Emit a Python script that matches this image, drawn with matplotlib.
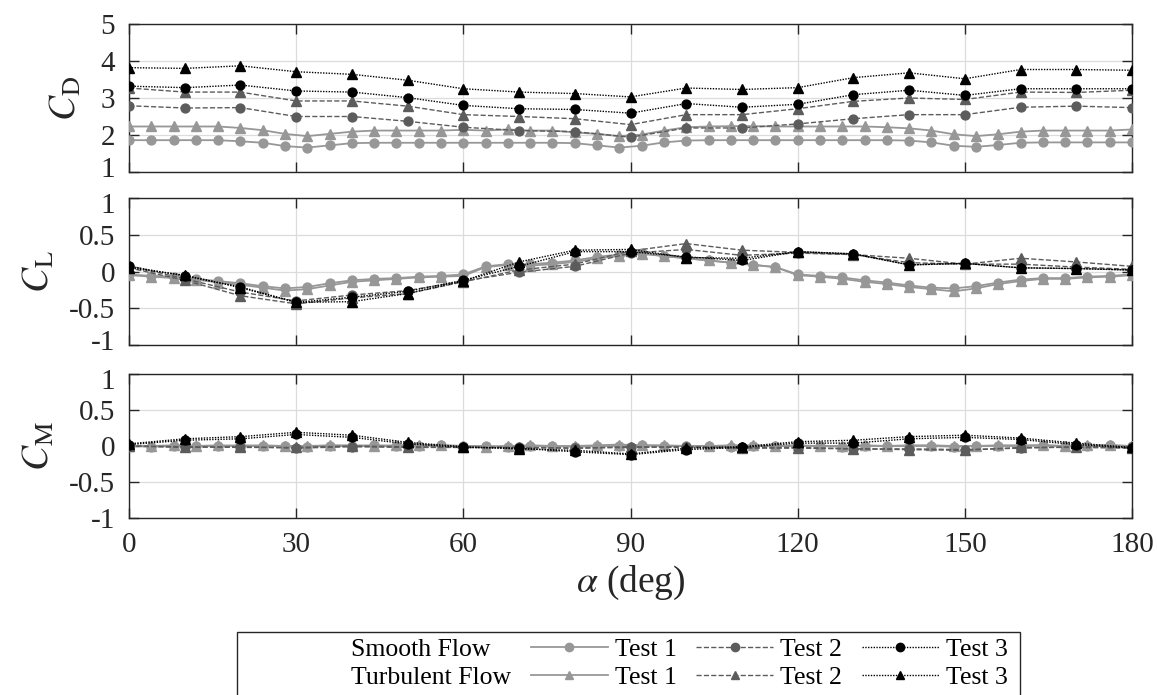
import numpy as np
import matplotlib
matplotlib.use('Agg')
import matplotlib.pyplot as plt
import matplotlib.transforms as mtransforms
from matplotlib.lines import Line2D
from matplotlib.patches import Rectangle

plt.rcParams['font.family'] = ['Liberation Serif', 'DejaVu Serif']
plt.rcParams['mathtext.fontset'] = 'stix'
plt.rcParams['axes.unicode_minus'] = False

# angles: test 1 every 4 deg, tests 2 and 3 every 10 deg
alpha_t1 = np.arange(0, 181, 4)
alpha_t23 = np.arange(0, 181, 10)

# ---- drag coefficient ----
cd_smooth_1 = [1.86, 1.86, 1.86, 1.86, 1.86, 1.83, 1.79, 1.70, 1.66, 1.72, 1.78, 1.79,
               1.79, 1.79, 1.79, 1.79, 1.79, 1.79, 1.79, 1.79, 1.78, 1.72, 1.66, 1.71,
               1.80, 1.85, 1.86, 1.86, 1.86, 1.86, 1.86, 1.86, 1.86, 1.86, 1.86, 1.85,
               1.80, 1.71, 1.68, 1.73, 1.79, 1.80, 1.80, 1.80, 1.80, 1.80]
cd_turb_1 = [2.23, 2.23, 2.23, 2.23, 2.23, 2.19, 2.13, 2.03, 1.97, 2.03, 2.09, 2.12,
             2.12, 2.12, 2.12, 2.14, 2.12, 2.15, 2.12, 2.12, 2.07, 2.03, 1.97, 2.01,
             2.12, 2.21, 2.23, 2.24, 2.24, 2.23, 2.23, 2.23, 2.23, 2.23, 2.21, 2.18,
             2.12, 2.02, 1.97, 2.02, 2.09, 2.12, 2.12, 2.12, 2.12, 2.15]
cd_smooth_2 = [2.79, 2.73, 2.74, 2.50, 2.50, 2.37, 2.21, 2.12, 2.09, 1.94,
               2.19, 2.19, 2.30, 2.44, 2.55, 2.55, 2.75, 2.78, 2.74]
cd_turb_2 = [3.27, 3.16, 3.16, 2.92, 2.92, 2.78, 2.55, 2.50, 2.44, 2.28,
             2.55, 2.55, 2.71, 2.91, 3.00, 2.96, 3.16, 3.15, 3.21]
cd_smooth_3 = [3.32, 3.28, 3.35, 3.19, 3.16, 3.01, 2.80, 2.71, 2.69, 2.59,
               2.85, 2.75, 2.83, 3.09, 3.21, 3.07, 3.25, 3.25, 3.25]
cd_turb_3 = [3.82, 3.80, 3.87, 3.71, 3.64, 3.48, 3.25, 3.16, 3.12, 3.03,
             3.27, 3.23, 3.28, 3.55, 3.68, 3.52, 3.77, 3.77, 3.75]

# ---- lift coefficient ----
cl_smooth_1 = [-0.04, -0.06, -0.07, -0.10, -0.13, -0.16, -0.20, -0.23, -0.21, -0.16, -0.12, -0.10,
               -0.09, -0.07, -0.06, -0.04, 0.07, 0.10, 0.10, 0.12, 0.15, 0.20, 0.23, 0.25,
               0.21, 0.18, 0.15, 0.12, 0.09, 0.06, -0.04, -0.06, -0.08, -0.12, -0.15, -0.19,
               -0.22, -0.23, -0.20, -0.15, -0.11, -0.09, -0.09, -0.07, -0.06, -0.04]
cl_turb_1 = [-0.05, -0.07, -0.09, -0.11, -0.15, -0.18, -0.22, -0.26, -0.24, -0.19, -0.14, -0.12,
             -0.10, -0.08, -0.07, -0.06, 0.06, 0.09, 0.08, 0.10, 0.13, 0.18, 0.21, 0.24,
             0.21, 0.18, 0.15, 0.12, 0.09, 0.06, -0.05, -0.07, -0.10, -0.14, -0.17, -0.21,
             -0.24, -0.27, -0.23, -0.17, -0.13, -0.10, -0.10, -0.08, -0.07, -0.05]
cl_smooth_2 = [0.08, -0.10, -0.28, -0.40, -0.32, -0.26, -0.13, -0.01, 0.07, 0.25,
               0.30, 0.22, 0.25, 0.23, 0.12, 0.10, 0.10, 0.06, 0.03]
cl_turb_2 = [0.05, -0.12, -0.33, -0.44, -0.36, -0.30, -0.14, 0.02, 0.10, 0.28,
             0.38, 0.29, 0.26, 0.23, 0.18, 0.10, 0.18, 0.13, 0.07]
cl_smooth_3 = [0.07, -0.06, -0.21, -0.42, -0.35, -0.27, -0.12, 0.07, 0.27, 0.27,
               0.20, 0.15, 0.27, 0.24, 0.09, 0.11, 0.05, 0.04, 0.02]
cl_turb_3 = [0.05, -0.05, -0.22, -0.42, -0.41, -0.30, -0.13, 0.13, 0.29, 0.30,
             0.19, 0.18, 0.27, 0.24, 0.09, 0.11, 0.05, 0.04, 0.02]

# ---- moment coefficient ----
cm_smooth_1 = [0.00, -0.01, 0.00, 0.00, 0.00, 0.01, 0.00, 0.00, -0.01, 0.00, 0.00, 0.01,
               0.00, 0.00, 0.01, 0.00, 0.00, -0.01, 0.00, 0.00, -0.01, 0.00, 0.00, 0.01,
               0.00, 0.00, 0.00, -0.01, 0.00, 0.00, 0.00, 0.00, -0.01, 0.00, 0.00, 0.00,
               0.00, -0.01, 0.00, 0.00, 0.00, 0.01, 0.00, 0.00, 0.01, 0.00]
cm_turb_1 = [0.00, 0.00, 0.01, 0.00, 0.01, 0.00, 0.01, 0.00, 0.00, 0.01, 0.01, 0.00,
             0.01, 0.02, 0.01, 0.00, -0.01, 0.00, 0.01, 0.00, 0.00, 0.01, 0.02, 0.01,
             0.01, 0.00, 0.00, 0.01, 0.01, 0.00, 0.01, 0.00, 0.00, 0.01, 0.00, 0.01,
             0.01, 0.00, 0.00, 0.01, 0.01, 0.01, 0.00, 0.01, 0.01, 0.00]
cm_smooth_2 = [0.00, -0.02, -0.01, -0.03, -0.01, -0.02, -0.02, -0.02, -0.03, -0.02,
               -0.01, -0.02, -0.02, -0.04, -0.04, -0.05, -0.03, -0.01, -0.02]
cm_turb_2 = [0.00, -0.01, -0.02, -0.02, 0.00, -0.01, -0.02, -0.02, -0.03, -0.01,
             -0.02, -0.03, -0.03, -0.04, -0.05, -0.06, -0.02, -0.02, -0.03]
cm_smooth_3 = [0.02, 0.08, 0.10, 0.16, 0.12, 0.03, -0.02, -0.03, -0.08, -0.12,
               -0.05, -0.02, 0.04, 0.04, 0.10, 0.12, 0.09, 0.02, -0.03]
cm_turb_3 = [0.03, 0.10, 0.13, 0.19, 0.15, 0.05, -0.01, -0.04, -0.06, -0.11,
             -0.03, -0.01, 0.06, 0.08, 0.13, 0.15, 0.11, 0.04, -0.02]

light = '#979797'
dark = '#5c5c5c'
black = '#000000'
txt = '#262626'

W, H = 1157, 695
fig = plt.figure(figsize=(W / 100, H / 100), dpi=100)


def frac(x0, y_top, x1, y_bot):
    return [x0 / W, 1 - y_bot / H, (x1 - x0) / W, (y_bot - y_top) / H]


ax1 = fig.add_axes(frac(129, 24, 1132, 172))
ax2 = fig.add_axes(frac(129, 198, 1132, 345))
ax3 = fig.add_axes(frac(129, 374, 1132, 518))

ms_c = 6.4
ms_t = 7.2
lw1 = 1.3
lw = 1.0
dot = (0, (1, 1))


def draw(ax, s1, t1, s2, t2, s3, t3):
    ax.plot(alpha_t1, s1, color=light, ls='-', lw=lw1, marker='o', ms=ms_c, zorder=3)
    ax.plot(alpha_t1, t1, color=light, ls='-', lw=lw1, marker='^', ms=ms_t, zorder=3)
    ax.plot(alpha_t23, s2, color=dark, ls='--', lw=lw, marker='o', ms=ms_c, zorder=4)
    ax.plot(alpha_t23, t2, color=dark, ls='--', lw=lw, marker='^', ms=ms_t, zorder=4)
    ax.plot(alpha_t23, s3, color=black, ls=dot, lw=lw, marker='o', ms=ms_c, zorder=5)
    ax.plot(alpha_t23, t3, color=black, ls=dot, lw=lw, marker='^', ms=ms_t, zorder=5)


draw(ax1, cd_smooth_1, cd_turb_1, cd_smooth_2, cd_turb_2, cd_smooth_3, cd_turb_3)
draw(ax2, cl_smooth_1, cl_turb_1, cl_smooth_2, cl_turb_2, cl_smooth_3, cl_turb_3)
draw(ax3, cm_smooth_1, cm_turb_1, cm_smooth_2, cm_turb_2, cm_smooth_3, cm_turb_3)

for ax in (ax1, ax2, ax3):
    ax.set_xlim(0, 180)
    ax.set_xticks(np.arange(0, 181, 30))
    ax.grid(True, color='#dcdcdc', lw=0.9)
    ax.set_axisbelow(True)
    ax.tick_params(direction='in', length=7, width=1, top=True, right=True,
                   labelsize=21, colors=txt)
    ax.tick_params(axis='y', pad=10)
    for sp in ax.spines.values():
        sp.set_color(txt)
        sp.set_linewidth(1.0)

ax1.set_ylim(1, 5)
ax1.set_yticks([1, 2, 3, 4, 5])
ax1.set_yticklabels(['1', '2', '3', '4', '5'])
for ax in (ax2, ax3):
    ax.set_ylim(-1, 1)
    ax.set_yticks([-1, -0.5, 0, 0.5, 1])
    ax.set_yticklabels(['-1', '-0.5', '0', '0.5', '1'])

ax1.tick_params(labelbottom=False)
ax2.tick_params(labelbottom=False)
ax3.tick_params(axis='x', pad=10)

# the end labels of neighbouring panels sit very close: nudge them apart a little
up = mtransforms.ScaledTranslation(0, 5 / 100, fig.dpi_scale_trans)
down = mtransforms.ScaledTranslation(0, -5 / 100, fig.dpi_scale_trans)
ax1.get_yticklabels()[0].set_transform(ax1.get_yticklabels()[0].get_transform() + up)
ax2.get_yticklabels()[-1].set_transform(ax2.get_yticklabels()[-1].get_transform() + down)
ax2.get_yticklabels()[0].set_transform(ax2.get_yticklabels()[0].get_transform() + up)
ax3.get_yticklabels()[-1].set_transform(ax3.get_yticklabels()[-1].get_transform() + down)

ax1.set_ylabel(r'$C_\mathrm{D}$', fontsize=27, color=txt, labelpad=12)
ax2.set_ylabel(r'$C_\mathrm{L}$', fontsize=27, color=txt, labelpad=9)
ax3.set_ylabel(r'$C_\mathrm{M}$', fontsize=27, color=txt, labelpad=9)
ax3.set_xlabel(r'$\alpha$ (deg)', fontsize=27, color=txt, labelpad=4)

blank = Line2D([], [], ls='none')
handles = [blank, blank,
           Line2D([], [], color=light, ls='-', lw=lw1, marker='o', ms=6),
           Line2D([], [], color=light, ls='-', lw=lw1, marker='^', ms=6),
           Line2D([], [], color=dark, ls='--', lw=lw, marker='o', ms=6),
           Line2D([], [], color=dark, ls='--', lw=lw, marker='^', ms=6),
           Line2D([], [], color=black, ls=dot, lw=lw, marker='o', ms=6),
           Line2D([], [], color=black, ls=dot, lw=lw, marker='^', ms=6)]
labels = ['Smooth Flow', 'Turbulent Flow', 'Test 1', 'Test 1',
          'Test 2', 'Test 2', 'Test 3', 'Test 3']
leg = fig.legend(handles, labels, ncol=4, loc='upper left',
                 bbox_to_anchor=(267 / W, 1 - 638 / H), borderaxespad=0,
                 fontsize=18.5, handlelength=3.0, handletextpad=0.28,
                 columnspacing=0.75, labelspacing=0.2, borderpad=0.0,
                 frameon=False)
for t in leg.get_texts():
    t.set_color('#000000')

# legend box (runs past the bottom edge as in the original)
fig.patches.append(Rectangle((237 / W, -0.02), (1020 - 237) / W, 0.02 + 1 - 632 / H,
                             transform=fig.transFigure, fill=False,
                             edgecolor=txt, linewidth=1.0))

fig.savefig('out.png', dpi=100)
